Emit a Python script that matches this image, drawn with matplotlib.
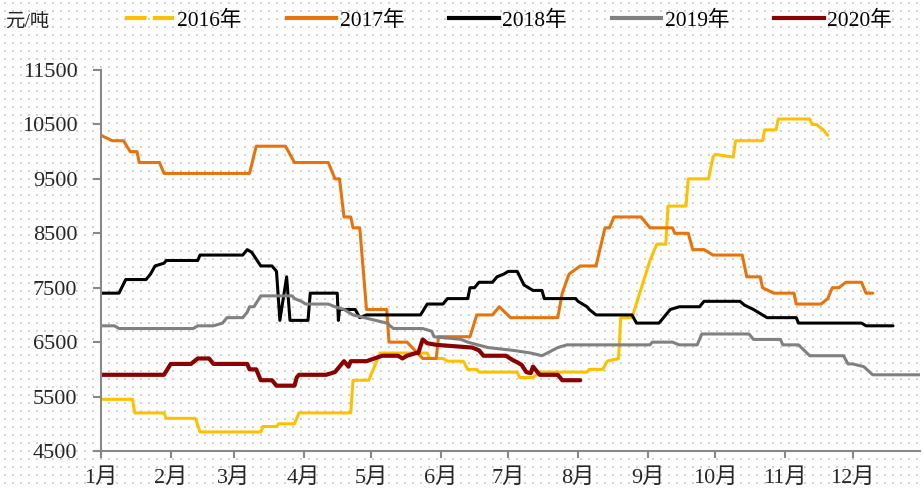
import numpy as np
import matplotlib
matplotlib.use('Agg')
import matplotlib.pyplot as plt
from matplotlib.lines import Line2D

plt.rcParams['font.family'] = ['Liberation Serif', 'Noto Sans CJK SC']

months = ['1月', '2月', '3月', '4月', '5月', '6月', '7月', '8月', '9月', '10月', '11月', '12月']
month_start = [0, 31, 59, 90, 120, 151, 181, 212, 243, 273, 304, 334]
y_ticks = [4500, 5500, 6500, 7500, 8500, 9500, 10500, 11500]

# day of year / price (元/吨)
day_2016 = [0, 14, 15, 28, 29, 42, 44, 71, 72, 78, 79, 86, 88, 111, 112, 119, 124, 145, 146, 152,
            154, 161, 163, 167, 168, 185, 186, 192, 195, 216, 217, 223, 225, 230, 231, 236, 244, 247, 251, 252,
            260, 261, 270, 272, 273, 281, 282, 294, 295, 300, 301, 315, 316, 318, 321, 323]
price_2016 = [5450, 5450, 5200, 5200, 5100, 5100, 4850, 4850, 4950, 4950, 5000, 5000, 5200, 5200, 5800, 5800, 6300, 6300, 6200, 6200,
              6150, 6150, 6000, 6000, 5950, 5950, 5850, 5850, 5950, 5950, 6000, 6000, 6150, 6200, 6950, 6950, 8000, 8300, 8300, 9000,
              9000, 9500, 9500, 9900, 9950, 9900, 10200, 10200, 10400, 10400, 10600, 10600, 10500, 10500, 10400, 10300]

day_2017 = [0, 5, 10, 13, 16, 17, 26, 28, 66, 69, 82, 86, 101, 104, 106, 108, 111, 112, 115, 118,
            127, 128, 136, 143, 149, 150, 164, 167, 174, 177, 182, 203, 205, 208, 213, 220, 224, 226, 228, 240,
            244, 254, 255, 261, 263, 268, 272, 285, 287, 293, 294, 299, 308, 309, 320, 323, 325, 328, 331, 338,
            340, 343]
price_2017 = [10300, 10200, 10200, 10000, 10000, 9800, 9800, 9600, 9600, 10100, 10100, 9800, 9800, 9500, 9500, 8800, 8800, 8600, 8600, 7100,
              7100, 6500, 6500, 6200, 6200, 6600, 6600, 7000, 7000, 7150, 6950, 6950, 7400, 7750, 7900, 7900, 8600, 8600, 8800, 8800,
              8600, 8600, 8500, 8500, 8200, 8200, 8100, 8100, 7700, 7700, 7500, 7400, 7400, 7200, 7200, 7300, 7500, 7500, 7600, 7600,
              7400, 7400]

day_2018 = [0, 8, 11, 20, 22, 24, 28, 29, 43, 44, 63, 65, 67, 71, 76, 78, 79.5, 82.5, 84, 92,
            93, 105, 105.5, 106, 113, 115, 118, 142, 145, 152, 154, 163, 164, 166, 168, 174, 176, 179, 181, 185,
            188, 192, 196, 197, 211, 212, 216, 217, 220, 236, 238, 248, 250, 253, 257, 266, 268, 284, 286, 290,
            296, 309, 310, 338, 340, 352]
price_2018 = [7400, 7400, 7650, 7650, 7750, 7900, 7950, 8000, 8000, 8100, 8100, 8200, 8150, 7900, 7900, 7800, 6900, 7700, 6900, 6900,
              7400, 7400, 6900, 7100, 7100, 6950, 7000, 7000, 7200, 7200, 7300, 7300, 7500, 7500, 7600, 7600, 7700, 7750, 7800, 7800,
              7550, 7450, 7450, 7300, 7300, 7250, 7150, 7100, 7000, 7000, 6850, 6850, 6950, 7100, 7150, 7150, 7250, 7250, 7180, 7100,
              6950, 6950, 6850, 6850, 6800, 6800]

day_2019 = [0, 6, 8, 41, 43, 50, 54, 56, 63, 65, 66, 68, 71, 85, 86, 89, 91, 101, 104, 108,
            112, 127, 130, 143, 147, 148, 160, 163, 172, 183, 191, 196, 203, 207, 226, 228, 244, 245, 254, 257,
            265, 267, 288, 290, 302, 303, 310, 315, 330, 332, 334, 339, 343, 364]
price_2019 = [6800, 6800, 6750, 6750, 6800, 6800, 6850, 6950, 6950, 7050, 7150, 7150, 7350, 7350, 7300, 7250, 7200, 7200, 7150, 7100,
              7000, 6850, 6750, 6750, 6700, 6600, 6550, 6500, 6400, 6350, 6300, 6250, 6400, 6450, 6450, 6450, 6450, 6500, 6500, 6450,
              6450, 6650, 6650, 6550, 6550, 6450, 6450, 6250, 6250, 6100, 6100, 6050, 5900, 5900]

day_2020 = [0, 28, 31, 40, 43, 48, 50, 65, 66, 69, 71, 76, 78, 86, 87, 88, 100, 104, 106, 108,
            110, 111, 118, 125, 132, 134, 136, 140, 141, 143, 145, 149, 165, 168, 170, 180, 183, 185, 187, 189,
            191, 192, 195, 203, 205, 213]
price_2020 = [5900, 5900, 6100, 6100, 6200, 6200, 6100, 6100, 6000, 6000, 5800, 5800, 5700, 5700, 5850, 5900, 5900, 5950, 6050, 6150,
              6050, 6150, 6150, 6250, 6250, 6200, 6250, 6300, 6300, 6550, 6480, 6450, 6400, 6350, 6250, 6250, 6170, 6130, 6080, 5950,
              5930, 6050, 5900, 5900, 5800, 5800]

series = [
    ('2016年', day_2016, price_2016, '#FFC000', 2.2),
    ('2017年', day_2017, price_2017, '#E8720C', 2.2),
    ('2018年', day_2018, price_2018, '#000000', 2.2),
    ('2019年', day_2019, price_2019, '#808080', 2.2),
    ('2020年', day_2020, price_2020, '#8B0000', 3.0),
]


def main():
    fig = plt.figure(figsize=(9.23, 4.90), dpi=100)

    # dotted background pattern
    bg = fig.add_axes([0, 0, 1, 1], zorder=-1)
    bg.set_xlim(0, 923)
    bg.set_ylim(490, 0)
    bg.axis('off')
    gx, gy = np.meshgrid(np.arange(5, 923, 8), np.arange(3, 490, 8))
    bg.scatter(gx.ravel(), gy.ravel(), s=1.3, marker='s', color='#d2d2d2', linewidths=0)

    ax = fig.add_axes([101 / 923, 1 - 451 / 490, 819 / 923, 381 / 490])
    ax.patch.set_alpha(0)

    for name, d, p, c, lw in series:
        ax.plot(d, p, color=c, lw=lw, solid_joinstyle='round', solid_capstyle='round')

    ax.set_xlim(0, 364)
    ax.set_ylim(4500, 11500)
    ax.set_yticks(y_ticks)
    ax.set_xticks(month_start)
    ax.set_xticklabels(months)
    ax.tick_params(axis='both', labelsize=16, colors='#888888', labelcolor='#262626',
                   direction='out', width=1.5)
    ax.tick_params(axis='y', length=6, pad=11)
    ax.tick_params(axis='x', length=5, pad=7)
    for s in ['top', 'right']:
        ax.spines[s].set_visible(False)
    for s in ['left', 'bottom']:
        ax.spines[s].set_color('#888888')
        ax.spines[s].set_linewidth(1.5)

    handles = []
    for name, d, p, c, lw in series:
        if name == '2016年':
            h = Line2D([], [], color=c, lw=3, dashes=(5.2, 1.5))
        else:
            h = Line2D([], [], color=c, lw=3)
        handles.append(h)
    fig.legend(handles, [s[0] for s in series], loc='center left',
               bbox_to_anchor=(0.135, 0.958), ncol=5, frameon=False, fontsize=15.5,
               handlelength=2.3, handletextpad=0.15, columnspacing=2.1,
               borderpad=0, borderaxespad=0)
    fig.text(0.006, 0.955, '元/吨', fontsize=14, color='#262626', va='center')

    fig.savefig('out.png', dpi=100)


if __name__ == '__main__':
    main()
